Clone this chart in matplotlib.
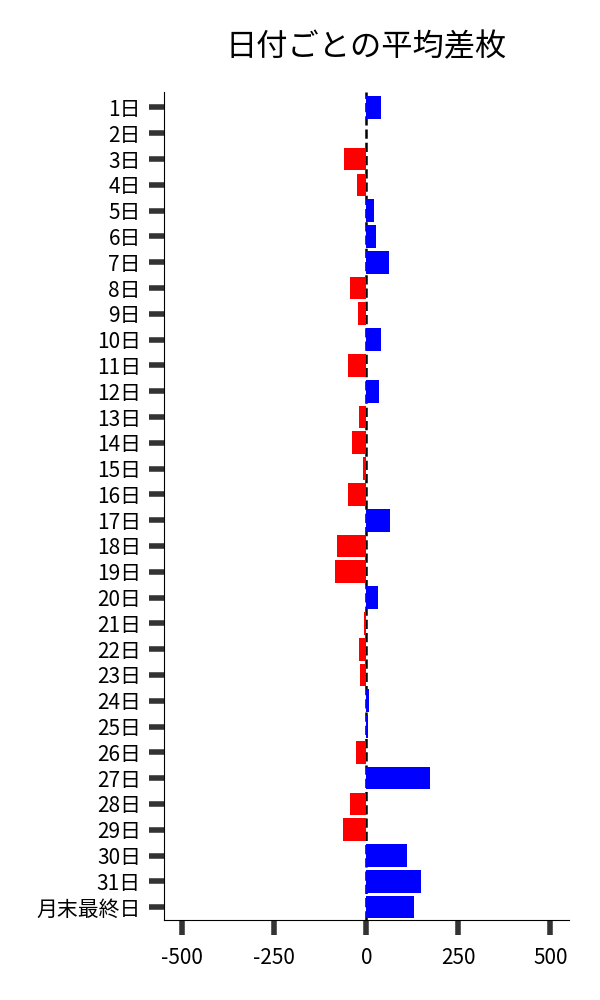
import matplotlib
matplotlib.use("Agg")
import matplotlib.pyplot as plt

plt.rcParams['font.family'] = ['Noto Sans CJK JP', 'DejaVu Sans']
plt.rcParams['axes.unicode_minus'] = False

days = [f"{d}日" for d in range(1, 32)] + ["月末最終日"]
avg_diff = [40, 0, -60, -25, 22, 25, 62, -43, -22, 40,
            -51, 35, -19, -38, -8, -51, 65, -79, -84, 32,
            -5, -19, -16, 8, 5, -27, 173, -43, -62, 111,
            149, 130]
colors = ["blue" if v >= 0 else "red" for v in avg_diff]

fig = plt.figure(figsize=(6, 10), dpi=100)
ax = fig.add_axes([0.273, 0.08, 0.675, 0.828])

ax.axvline(0, color="black", linestyle="--", linewidth=1.8, zorder=0)
ax.barh(range(len(days)), avg_diff, height=0.88, color=colors, zorder=2)

ax.set_yticks(range(len(days)))
ax.set_yticklabels(days)
ax.set_ylim(len(days) - 0.5, -0.6)
ax.set_xlim(-550, 550)
ax.set_xticks([-500, -250, 0, 250, 500])

ax.spines['top'].set_visible(False)
ax.spines['right'].set_visible(False)
ax.tick_params(axis='both', length=10.5, width=4, color='#333333', labelsize=15)
ax.tick_params(axis='y', pad=6)
ax.tick_params(axis='x', pad=9)

ax.set_title("日付ごとの平均差枚", fontsize=22.5, pad=26)

fig.savefig("out.png", dpi=100)
